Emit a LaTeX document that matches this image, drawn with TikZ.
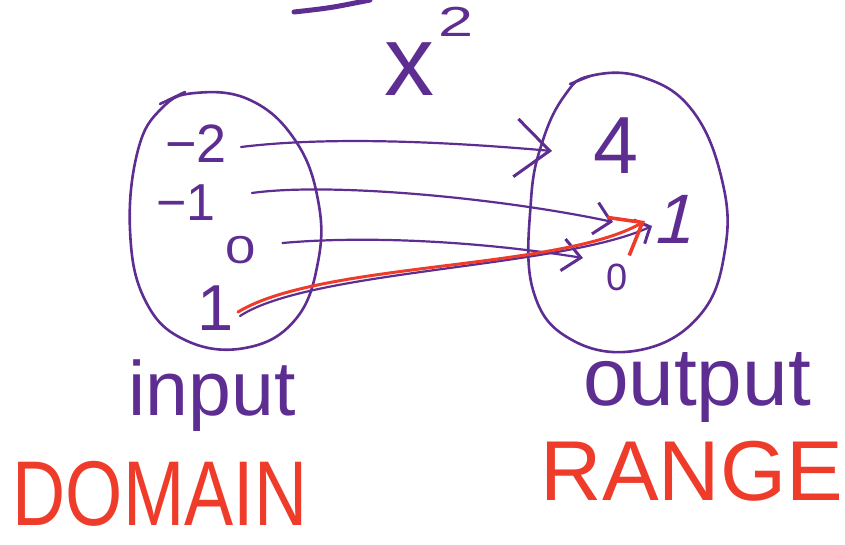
\documentclass[tikz,border=0pt]{standalone}
\usepackage{fontspec}
\setmainfont{Liberation Sans}
\usetikzlibrary{arrows.meta}
\definecolor{pur}{HTML}{5E2D91}
\definecolor{red}{HTML}{EE3B2A}
\tikzset{
  hand/.style={inner sep=0pt, anchor=base, text=pur},
  redhand/.style={inner sep=0pt, anchor=base, text=red},
  oval/.style={draw=pur, line width=2.6pt, line join=round, line cap=round},
  conn/.style 2 args={draw=pur, line width=2.2pt, line cap=round, -{Straight Barb[length=#1,width=#2,line width=3pt]}},
  rconn/.style={draw=red, line width=3pt, line cap=round, -{Straight Barb[length=28pt,width=44pt,line width=3.6pt]}}
}
\newcommand{\fs}[1]{\fontsize{#1}{#1}\selectfont}
\begin{document}
\begin{tikzpicture}[x=1pt,y=-1pt]
\useasboundingbox (0,0) rectangle (845,544);
% top stroke
\draw[draw=pur, line width=5pt, line cap=round] (294,12) .. controls (330,8) .. (370,0);
% title x^2
\node[hand, font=\fs{100}] (xx) at (409,95) {x};
\node[hand, font=\fs{42}, xscale=1.5] (sq) at (456,36) {2};
% ovals
\draw[oval] plot[smooth cycle, tension=0.7] coordinates {(195,93) (250,100) (295,140) (318,200) (318,262) (295,320) (245,348) (185,340) (145,300) (130,230) (138,150) (162,108)};
\draw[oval] (160,104) -- (185,92);
\draw[oval] plot[smooth cycle, tension=0.7] coordinates {(590,76) (642,77) (692,110) (722,180) (725,250) (700,315) (640,350) (572,340) (533,290) (531,200) (543,140) (565,95)};
\draw[oval] (570,84) -- (590,76);
% left numbers
\node[hand, font=\fs{54}] (lm2) at (196,162) {−2};
\node[hand, font=\fs{52}] (lm1) at (186,220) {−1};
\node[hand, font=\fs{39}, xscale=1.4] (l0) at (241,263) {0};
\node[hand, font=\fs{65}] (l1) at (216,330) {1};
% right numbers
\node[hand, font=\fs{81}] (r4) at (616,173) {4};
\node[hand, font=\fs{70}, xslant=0.25] (r1) at (672,243) {1};
\node[hand, font=\fs{38}] (r0) at (617,290) {0};
% arrow end points
\coordinate (t4) at (552,151);
\coordinate (t1a) at (613,222);
\coordinate (t0) at (583,258);
\coordinate (t1b) at (652,226);
\coordinate (t1r) at (645,221);
\coordinate (s1) at (240,316);
\coordinate (s1r) at (238,312);
% connectors
\draw[conn={34pt}{58pt}] ([xshift=14pt,yshift=15pt]lm2.base east) .. controls (330,136) and (450,142) .. (t4);
\draw[conn={16pt}{32pt}] ([xshift=36pt,yshift=27pt]lm1.base east) .. controls (330,182) and (500,198) .. (t1a);
\draw[conn={18pt}{32pt}] ([xshift=26pt,yshift=20pt]l0.base east) .. controls (360,236) and (470,240) .. (t0);
\draw[conn={12pt}{26pt}] (s1) .. controls (310,270) and (560,268) .. (t1b);
\draw[rconn] (s1r) .. controls (320,262) and (560,270) .. (t1r);
% labels
\node[hand, font=\fs{77}] (inp) at (212,415) {input};
\node[hand, font=\fs{82}] (outp) at (697,405) {output};
\node[redhand, font=\fs{92}, xscale=0.8] (dom) at (160,525) {DOMAIN};
\node[redhand, font=\fs{85}] (rng) at (692,500) {RANGE};
\end{tikzpicture}
\end{document}
